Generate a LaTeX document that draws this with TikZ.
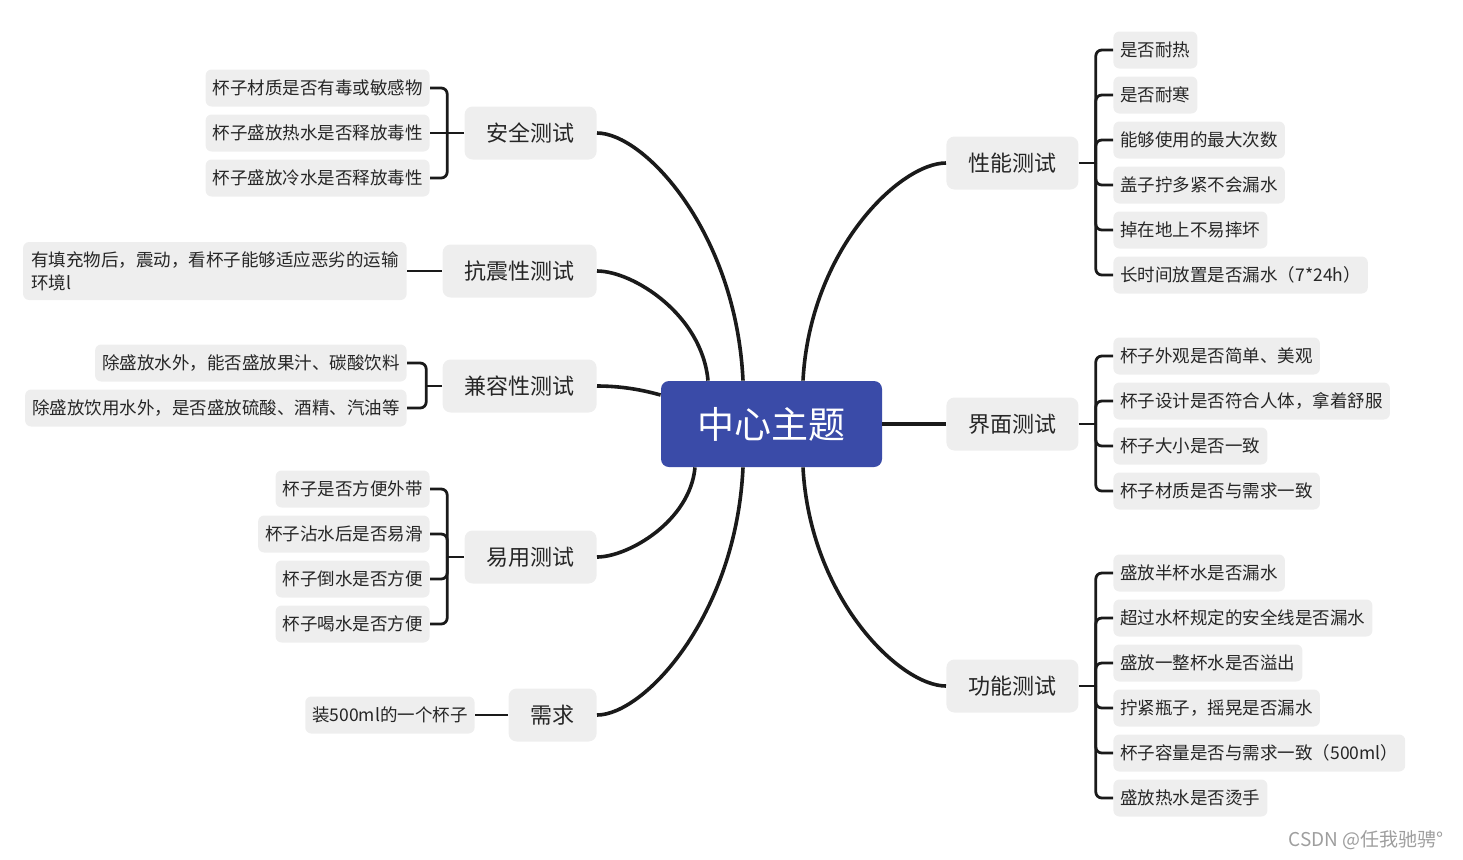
\documentclass[tikz,border=0pt]{standalone}
\usepackage{fontspec}
\setmainfont{Noto Sans CJK SC}
\usetikzlibrary{calc}
\definecolor{leafgray}{HTML}{EEEEEE}
\definecolor{cblue}{HTML}{3A4BA8}
\definecolor{lnk}{HTML}{1A1A1A}
\definecolor{txt}{HTML}{262626}
\tikzset{
  leaf/.style={fill=leafgray, rounded corners=3pt, inner xsep=3.5pt, inner ysep=0pt,
    minimum height=18.5pt, text=txt, font=\fontsize{8.75pt}{11.5pt}\selectfont},
  mainbox/.style={fill=leafgray, rounded corners=4pt, inner xsep=11pt, inner ysep=0pt,
    minimum height=26.5pt, text=txt, font=\fontsize{11pt}{13pt}\selectfont},
  centerbox/.style={fill=cblue, rounded corners=4pt, minimum width=110.5pt,
    minimum height=43pt, text=white, font=\fontsize{18.5pt}{20pt}\selectfont},
  branch/.style={draw=lnk, line width=1.8pt},
  bline/.style={draw=lnk, line width=1.4pt},
  bracket/.style={draw=lnk, line width=1.4pt, rounded corners=3pt},
}
\begin{document}
\begin{tikzpicture}[x=0.5pt,y=-0.5pt]
\useasboundingbox (0,0) rectangle (1463,859);

% center
\node[centerbox] (c) at (771.5,424) {中心主题};

% main nodes
\node[mainbox, anchor=east] (aq) at (597,133) {安全测试};
\node[mainbox, anchor=east] (kz) at (597,271) {抗震性测试};
\node[mainbox, anchor=east] (jr) at (597,386) {兼容性测试};
\node[mainbox, anchor=east] (yy) at (597,557) {易用测试};
\node[mainbox, anchor=east] (xq) at (597,715) {需求};
\node[mainbox, anchor=west] (xn) at (946,163) {性能测试};
\node[mainbox, anchor=west] (jm) at (946,424) {界面测试};
\node[mainbox, anchor=west] (gn) at (946,686) {功能测试};

% center attach points
\coordinate (caq) at ($(c.north)+(-28.5,0)$);
\coordinate (ckz) at ($(c.north)+(-63.5,0)$);
\coordinate (cjr) at ($(c.west)+(0,-29)$);
\coordinate (cyy) at ($(c.south)+(-76.5,0)$);
\coordinate (cxq) at ($(c.south)+(-28.5,0)$);
\coordinate (cxn) at ($(c.north)+(31.5,0)$);
\coordinate (cgn) at ($(c.south)+(31.5,0)$);

% main curves
\draw[branch] (aq.east) .. controls +(47,0) and +(-7,-149) .. (caq);
\draw[branch] (kz.east) .. controls +(36,0) and +(-6,-66) .. (ckz);
\draw[branch] (jr.east) .. controls +(25,0) and +(-18,-5) .. (cjr);
\draw[branch] (yy.east) .. controls +(31,0) and +(-5,54) .. (cyy);
\draw[branch] (xq.east) .. controls +(47,0) and +(-7,149) .. (cxq);
\draw[branch] (xn.west) .. controls +(-46,0) and +(7,-131) .. (cxn);
\draw[branch] (gn.west) .. controls +(-46,0) and +(7,131) .. (cgn);
\draw[branch] (c.east) -- (jm.west);

% 性能测试 leaves
\node[leaf, anchor=west] (xn1) at (1113,50) {是否耐热};
\node[leaf, anchor=west] (xn2) at (1113,95) {是否耐寒};
\node[leaf, anchor=west] (xn3) at (1113,140) {能够使用的最大次数};
\node[leaf, anchor=west] (xn4) at (1113,185) {盖子拧多紧不会漏水};
\node[leaf, anchor=west] (xn5) at (1113,230) {掉在地上不易摔坏};
\node[leaf, anchor=west] (xn6) at (1113,275) {长时间放置是否漏水（7*24h）};
\coordinate (xnj) at ($(xn.east)+(17,0)$);
\draw[bline] (xn.east) -- (xnj);
\foreach \i in {1,...,6} \draw[bracket] (xnj) |- (xn\i.west);

% 界面测试 leaves
\node[leaf, anchor=west] (jm1) at (1113,356) {杯子外观是否简单、美观};
\node[leaf, anchor=west] (jm2) at (1113,401) {杯子设计是否符合人体，拿着舒服};
\node[leaf, anchor=west] (jm3) at (1113,446) {杯子大小是否一致};
\node[leaf, anchor=west] (jm4) at (1113,491) {杯子材质是否与需求一致};
\coordinate (jmj) at ($(jm.east)+(17,0)$);
\draw[bline] (jm.east) -- (jmj);
\foreach \i in {1,...,4} \draw[bracket] (jmj) |- (jm\i.west);

% 功能测试 leaves
\node[leaf, anchor=west] (gn1) at (1113,573) {盛放半杯水是否漏水};
\node[leaf, anchor=west] (gn2) at (1113,618) {超过水杯规定的安全线是否漏水};
\node[leaf, anchor=west] (gn3) at (1113,663) {盛放一整杯水是否溢出};
\node[leaf, anchor=west] (gn4) at (1113,708) {拧紧瓶子，摇晃是否漏水};
\node[leaf, anchor=west] (gn5) at (1113,753) {杯子容量是否与需求一致（500ml）};
\node[leaf, anchor=west] (gn6) at (1113,798) {盛放热水是否烫手};
\coordinate (gnj) at ($(gn.east)+(17,0)$);
\draw[bline] (gn.east) -- (gnj);
\foreach \i in {1,...,6} \draw[bracket] (gnj) |- (gn\i.west);

% 安全测试 leaves
\node[leaf, anchor=east] (aq1) at (430,88) {杯子材质是否有毒或敏感物};
\node[leaf, anchor=east] (aq2) at (430,133) {杯子盛放热水是否释放毒性};
\node[leaf, anchor=east] (aq3) at (430,178) {杯子盛放冷水是否释放毒性};
\coordinate (aqj) at ($(aq.west)+(-17,0)$);
\draw[bline] (aq.west) -- (aqj);
\draw[bracket] (aqj) |- (aq1.east);
\draw[bline] (aqj) -- (aq2.east);
\draw[bracket] (aqj) |- (aq3.east);

% 抗震性测试 leaf
\node[leaf, anchor=east, align=left, minimum height=29pt, inner xsep=4pt] (kz1) at (407,271)
  {有填充物后，震动，看杯子能够适应恶劣的运输\\环境l};
\draw[bline] (kz.west) -- (kz1.east);

% 兼容性测试 leaves
\node[leaf, anchor=east] (jr1) at (407,363) {除盛放水外，能否盛放果汁、碳酸饮料};
\node[leaf, anchor=east] (jr2) at (407,408) {除盛放饮用水外，是否盛放硫酸、酒精、汽油等};
\coordinate (jrj) at ($(jr.west)+(-16,0)$);
\draw[bline] (jr.west) -- (jrj);
\foreach \i in {1,2} \draw[bracket] (jrj) |- (jr\i.east);

% 易用测试 leaves
\node[leaf, anchor=east] (yy1) at (430,489) {杯子是否方便外带};
\node[leaf, anchor=east] (yy2) at (430,534) {杯子沾水后是否易滑};
\node[leaf, anchor=east] (yy3) at (430,579) {杯子倒水是否方便};
\node[leaf, anchor=east] (yy4) at (430,624) {杯子喝水是否方便};
\coordinate (yyj) at ($(yy.west)+(-17,0)$);
\draw[bline] (yy.west) -- (yyj);
\foreach \i in {1,...,4} \draw[bracket] (yyj) |- (yy\i.east);

% 需求 leaf
\node[leaf, anchor=east] (xq1) at (475,715) {装500ml的一个杯子};
\draw[bline] (xq.west) -- (xq1.east);

% watermark
\node[anchor=east, text=black!38, font=\fontsize{9.5pt}{10pt}\selectfont] (wm) at (1451,840) {CSDN @任我驰骋°};
\end{tikzpicture}
\end{document}
